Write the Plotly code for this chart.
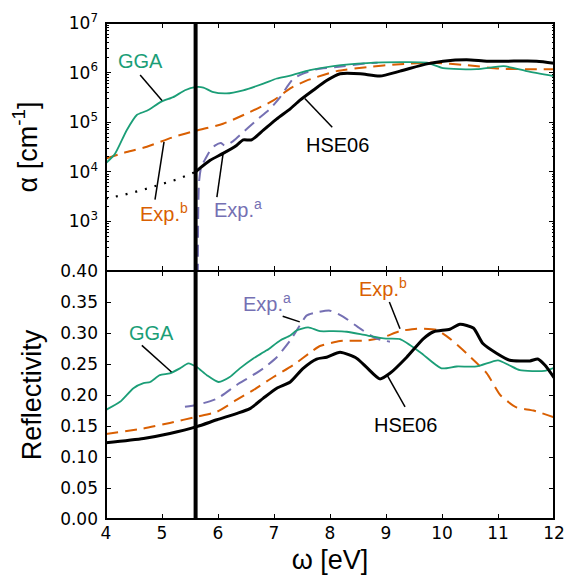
import math
import plotly.graph_objects as go
from plotly.subplots import make_subplots

# ---------------- absorption coefficient alpha (cm^-1) ----------------
e_gga_abs = [4.00, 4.16, 4.37, 4.55, 4.73, 4.99, 5.20, 5.41, 5.59, 5.74, 5.90, 6.15,
             6.45, 6.81, 7.05, 7.29, 7.64, 8.06, 8.66, 9.25, 9.73, 10.02, 10.62,
             11.10, 11.51, 12.00]
alpha_gga = [1.5e4, 2.3e4, 6.9e4, 1.4e5, 1.7e5, 2.6e5, 3.2e5, 4.4e5, 5.1e5, 5.0e5,
             4.1e5, 3.8e5, 4.4e5, 6.0e5, 7.6e5, 8.7e5, 1.12e6, 1.35e6, 1.55e6,
             1.62e6, 1.58e6, 1.23e6, 1.17e6, 1.35e6, 1.07e6, 8.5e5]

e_expb_abs = [4.00, 4.37, 4.73, 5.20, 5.62, 6.09, 6.57, 6.99, 7.29, 7.58, 8.12, 8.66,
              9.25, 9.85, 10.44, 11.04, 11.63, 12.00]
alpha_expb = [1.86e4, 2.5e4, 3.2e4, 5.0e4, 6.8e4, 9.3e4, 1.6e5, 2.75e5, 4.8e5, 6.9e5,
              1.07e6, 1.29e6, 1.48e6, 1.58e6, 1.41e6, 1.2e6, 1.17e6, 1.17e6]

e_expa_abs = [5.64, 5.645, 5.66, 5.70, 5.77, 5.87, 5.95, 6.05, 6.12, 6.25, 6.39, 6.69,
              6.93, 7.11, 7.23, 7.35, 7.52, 7.76, 8.12, 8.66, 8.85]
alpha_expa = [80, 1.0e3, 6.0e3, 1.26e4, 1.78e4, 2.8e4, 3.4e4, 3.8e4, 3.4e4, 4.0e4,
              5.5e4, 1.1e5, 1.86e5, 3.2e5, 5.1e5, 7.6e5, 9.5e5, 1.17e6, 1.29e6,
              1.55e6, 1.58e6]

e_hse_abs = [5.60, 5.86, 6.09, 6.33, 6.45, 6.60, 6.81, 7.05, 7.29, 7.46, 7.70, 7.94,
             8.18, 8.54, 8.89, 9.25, 9.73, 10.02, 10.44, 10.80, 11.16, 11.69, 12.00]
alpha_hse = [1.0e4, 1.7e4, 2.35e4, 3.4e4, 4.4e4, 4.4e4, 6.9e4, 1.17e5, 1.86e5, 2.75e5,
             4.4e5, 6.9e5, 9.5e5, 9.5e5, 8.5e5, 1.07e6, 1.5e6, 1.7e6, 1.82e6, 1.7e6,
             1.7e6, 1.7e6, 1.55e6]

# HSE06 below the gap (dotted)
e_hse_tail = [4.00, 4.30, 4.65, 5.00, 5.30, 5.60]
alpha_hse_tail = [2.9e3, 3.4e3, 4.3e3, 5.6e3, 7.2e3, 1.0e4]

# ---------------- reflectivity ----------------
e_gga_refl = [4.00, 4.25, 4.49, 4.67, 4.79, 4.96, 5.14, 5.32, 5.47, 5.62, 5.80, 6.01,
              6.21, 6.39, 6.63, 6.87, 7.11, 7.29, 7.40, 7.61, 7.82, 8.06, 8.30, 8.66,
              9.00, 9.25, 9.61, 9.99, 10.26, 10.62, 11.00, 11.20, 11.39, 11.83, 12.00]
refl_gga = [0.176, 0.189, 0.211, 0.219, 0.221, 0.232, 0.235, 0.243, 0.251, 0.245,
            0.232, 0.221, 0.229, 0.243, 0.259, 0.272, 0.288, 0.296, 0.304, 0.309,
            0.303, 0.303, 0.302, 0.296, 0.291, 0.290, 0.269, 0.243, 0.246, 0.246,
            0.256, 0.248, 0.240, 0.239, 0.244]

e_expb_refl = [4.00, 4.67, 5.14, 5.62, 5.98, 6.33, 6.63, 6.99, 7.34, 7.70, 7.82, 8.18,
               8.66, 8.95, 9.25, 9.55, 9.90, 10.14, 10.44, 10.80, 11.04, 11.33, 11.63,
               12.00]
refl_expb = [0.137, 0.146, 0.155, 0.165, 0.173, 0.192, 0.208, 0.229, 0.248, 0.272,
             0.279, 0.287, 0.288, 0.293, 0.303, 0.307, 0.305, 0.291, 0.267, 0.235,
             0.200, 0.180, 0.175, 0.164]

e_expa_refl = [5.41, 5.62, 5.98, 6.33, 6.57, 6.81, 7.05, 7.29, 7.46, 7.58, 7.70, 8.00,
               8.24, 8.54, 8.83, 9.07]
refl_expa = [0.181, 0.184, 0.194, 0.216, 0.229, 0.243, 0.261, 0.288, 0.312, 0.328,
             0.332, 0.336, 0.326, 0.307, 0.291, 0.286]

e_hse_refl = [4.00, 4.67, 5.14, 5.62, 5.98, 6.33, 6.57, 6.81, 7.05, 7.29, 7.52, 7.76,
              7.94, 8.18, 8.48, 8.66, 8.89, 9.07, 9.37, 9.67, 9.85, 10.14, 10.32,
              10.56, 10.73, 10.98, 11.21, 11.57, 11.71, 11.84, 12.00]
refl_hse = [0.123, 0.130, 0.138, 0.149, 0.160, 0.170, 0.178, 0.195, 0.211, 0.221,
            0.243, 0.258, 0.261, 0.269, 0.259, 0.244, 0.226, 0.235, 0.261, 0.291,
            0.302, 0.306, 0.314, 0.308, 0.283, 0.267, 0.256, 0.255, 0.258, 0.248,
            0.228]

band_gap = 5.6

x_ticks = [4, 5, 6, 7, 8, 9, 10, 11, 12]
alpha_tickvals = [1e3, 1e4, 1e5, 1e6, 1e7]
alpha_ticktext = ["10<sup>3</sup>", "10<sup>4</sup>", "10<sup>5</sup>",
                  "10<sup>6</sup>", "10<sup>7</sup>"]
alpha_minor = [m * 10 ** d for d in range(2, 7) for m in range(2, 10)]
refl_tickvals = [0.00, 0.05, 0.10, 0.15, 0.20, 0.25, 0.30, 0.35, 0.40]

GREEN = "#1b9e77"
ORANGE = "#d95f02"
PURPLE = "#7570b3"
BLACK = "#000000"

TICK_FONT = dict(family="DejaVu Sans", size=17, color="black")
LABEL_FONT = "Liberation Sans"

fig = make_subplots(rows=2, cols=1, shared_xaxes=True, vertical_spacing=0)

SMOOTH = 0.6
DASH = "12px,7px"

# absorption panel
fig.add_trace(go.Scatter(x=e_hse_tail, y=alpha_hse_tail, mode="lines",
                         line=dict(color=BLACK, width=2.2, dash="2px,8px")), row=1, col=1)
fig.add_trace(go.Scatter(x=e_expb_abs, y=alpha_expb, mode="lines",
                         line=dict(color=ORANGE, width=2, dash=DASH, shape="spline",
                                   smoothing=SMOOTH)), row=1, col=1)
fig.add_trace(go.Scatter(x=e_expa_abs, y=alpha_expa, mode="lines",
                         line=dict(color=PURPLE, width=2, dash=DASH, shape="spline",
                                   smoothing=SMOOTH)), row=1, col=1)
fig.add_trace(go.Scatter(x=e_gga_abs, y=alpha_gga, mode="lines",
                         line=dict(color=GREEN, width=1.8, shape="spline",
                                   smoothing=SMOOTH)), row=1, col=1)
fig.add_trace(go.Scatter(x=e_hse_abs, y=alpha_hse, mode="lines",
                         line=dict(color=BLACK, width=3, shape="spline",
                                   smoothing=SMOOTH)), row=1, col=1)

# reflectivity panel
fig.add_trace(go.Scatter(x=e_expb_refl, y=refl_expb, mode="lines",
                         line=dict(color=ORANGE, width=2, dash=DASH, shape="spline",
                                   smoothing=SMOOTH)), row=2, col=1)
fig.add_trace(go.Scatter(x=e_expa_refl, y=refl_expa, mode="lines",
                         line=dict(color=PURPLE, width=2, dash=DASH, shape="spline",
                                   smoothing=SMOOTH)), row=2, col=1)
fig.add_trace(go.Scatter(x=e_gga_refl, y=refl_gga, mode="lines",
                         line=dict(color=GREEN, width=1.8, shape="spline",
                                   smoothing=SMOOTH)), row=2, col=1)
fig.add_trace(go.Scatter(x=e_hse_refl, y=refl_hse, mode="lines",
                         line=dict(color=BLACK, width=3, shape="spline",
                                   smoothing=SMOOTH)), row=2, col=1)

# band-gap marker spanning both panels
fig.add_shape(type="line", xref="x", yref="paper", x0=band_gap, x1=band_gap,
              y0=0, y1=1, line=dict(color=BLACK, width=4), layer="above")

# panel frames (shared edge drawn once at the same place)
for xr, yr in (("x domain", "y domain"), ("x2 domain", "y2 domain")):
    fig.add_shape(type="rect", xref=xr, yref=yr, x0=0, x1=1, y0=0, y1=1,
                  line=dict(color=BLACK, width=2), fillcolor="rgba(0,0,0,0)",
                  layer="above")

# curve labels: (text, color, x, y, leader x0, y0, x1, y1, xref, yref, log-axis)
labels = [
    ("GGA", GREEN, 4.61, 1.7e6, 4.61, 8.9e5, 5.00, 2.75e5, "x", "y", True),
    ("Exp.<sup>b</sup>", ORANGE, 5.04, 1.5e3, 4.875, 2.75e3, 5.036, 4.0e4, "x", "y", True),
    ("Exp.<sup>a</sup>", PURPLE, 6.36, 1.8e3, 5.98, 3.1e3, 6.095, 2.5e4, "x", "y", True),
    ("HSE06", BLACK, 8.13, 3.55e4, 7.55, 3.0e5, 8.04, 7.9e4, "x", "y", True),
    ("GGA", GREEN, 4.81, 0.300, 4.64, 0.280, 5.17, 0.237, "x2", "y2", False),
    ("Exp.<sup>a</sup>", PURPLE, 6.87, 0.350, 7.155, 0.327, 7.46, 0.318, "x2", "y2", False),
    ("Exp.<sup>b</sup>", ORANGE, 8.95, 0.373, 9.06, 0.350, 9.25, 0.307, "x2", "y2", False),
    ("HSE06", BLACK, 9.35, 0.152, 9.34, 0.181, 9.02, 0.232, "x2", "y2", False),
]

for text, color, tx, ty, lx0, ly0, lx1, ly1, xr, yr, is_log in labels:
    fig.add_annotation(x=tx, y=math.log10(ty) if is_log else ty, xref=xr, yref=yr,
                       text=text, showarrow=False,
                       font=dict(family=LABEL_FONT, size=20, color=color))
    fig.add_shape(type="line", xref=xr, yref=yr, x0=lx0, y0=ly0, x1=lx1, y1=ly1,
                  line=dict(color=BLACK, width=1.5))

axis_common = dict(showline=False, mirror="allticks", automargin=False,
                   ticks="inside", ticklen=5, tickwidth=1.3, tickcolor="black",
                   showgrid=False, zeroline=False, tickfont=TICK_FONT)

fig.update_xaxes(range=[4, 12], tickvals=x_ticks, **axis_common)
fig.update_xaxes(showticklabels=False, row=1, col=1)
fig.update_xaxes(ticktext=[str(v) for v in x_ticks], ticklabelstandoff=2,
                 title=dict(text="ω [eV]", font=dict(family=LABEL_FONT, size=27,
                                                      color="black"), standoff=8),
                 row=2, col=1)

fig.update_yaxes(type="log", range=[2, 7], tickvals=alpha_tickvals,
                 ticktext=alpha_ticktext, ticklabelstandoff=7,
                 minor=dict(tickvals=alpha_minor, ticks="inside", ticklen=2.5,
                            tickwidth=1, tickcolor="black"),
                 title=dict(text="α [cm<sup>-1</sup>]",
                            font=dict(family=LABEL_FONT, size=27, color="black"),
                            standoff=23),
                 row=1, col=1, **axis_common)
fig.update_yaxes(range=[0, 0.40], tickvals=refl_tickvals,
                 ticktext=[f"{v:.2f}" for v in refl_tickvals], ticklabelstandoff=7,
                 title=dict(text="Reflectivity",
                            font=dict(family=LABEL_FONT, size=27, color="black"),
                            standoff=10),
                 row=2, col=1, **axis_common)

fig.update_layout(width=568, height=581, showlegend=False,
                  margin=dict(l=106, r=14, t=23, b=62),
                  paper_bgcolor="white", plot_bgcolor="white")

fig.write_html("out.html")
